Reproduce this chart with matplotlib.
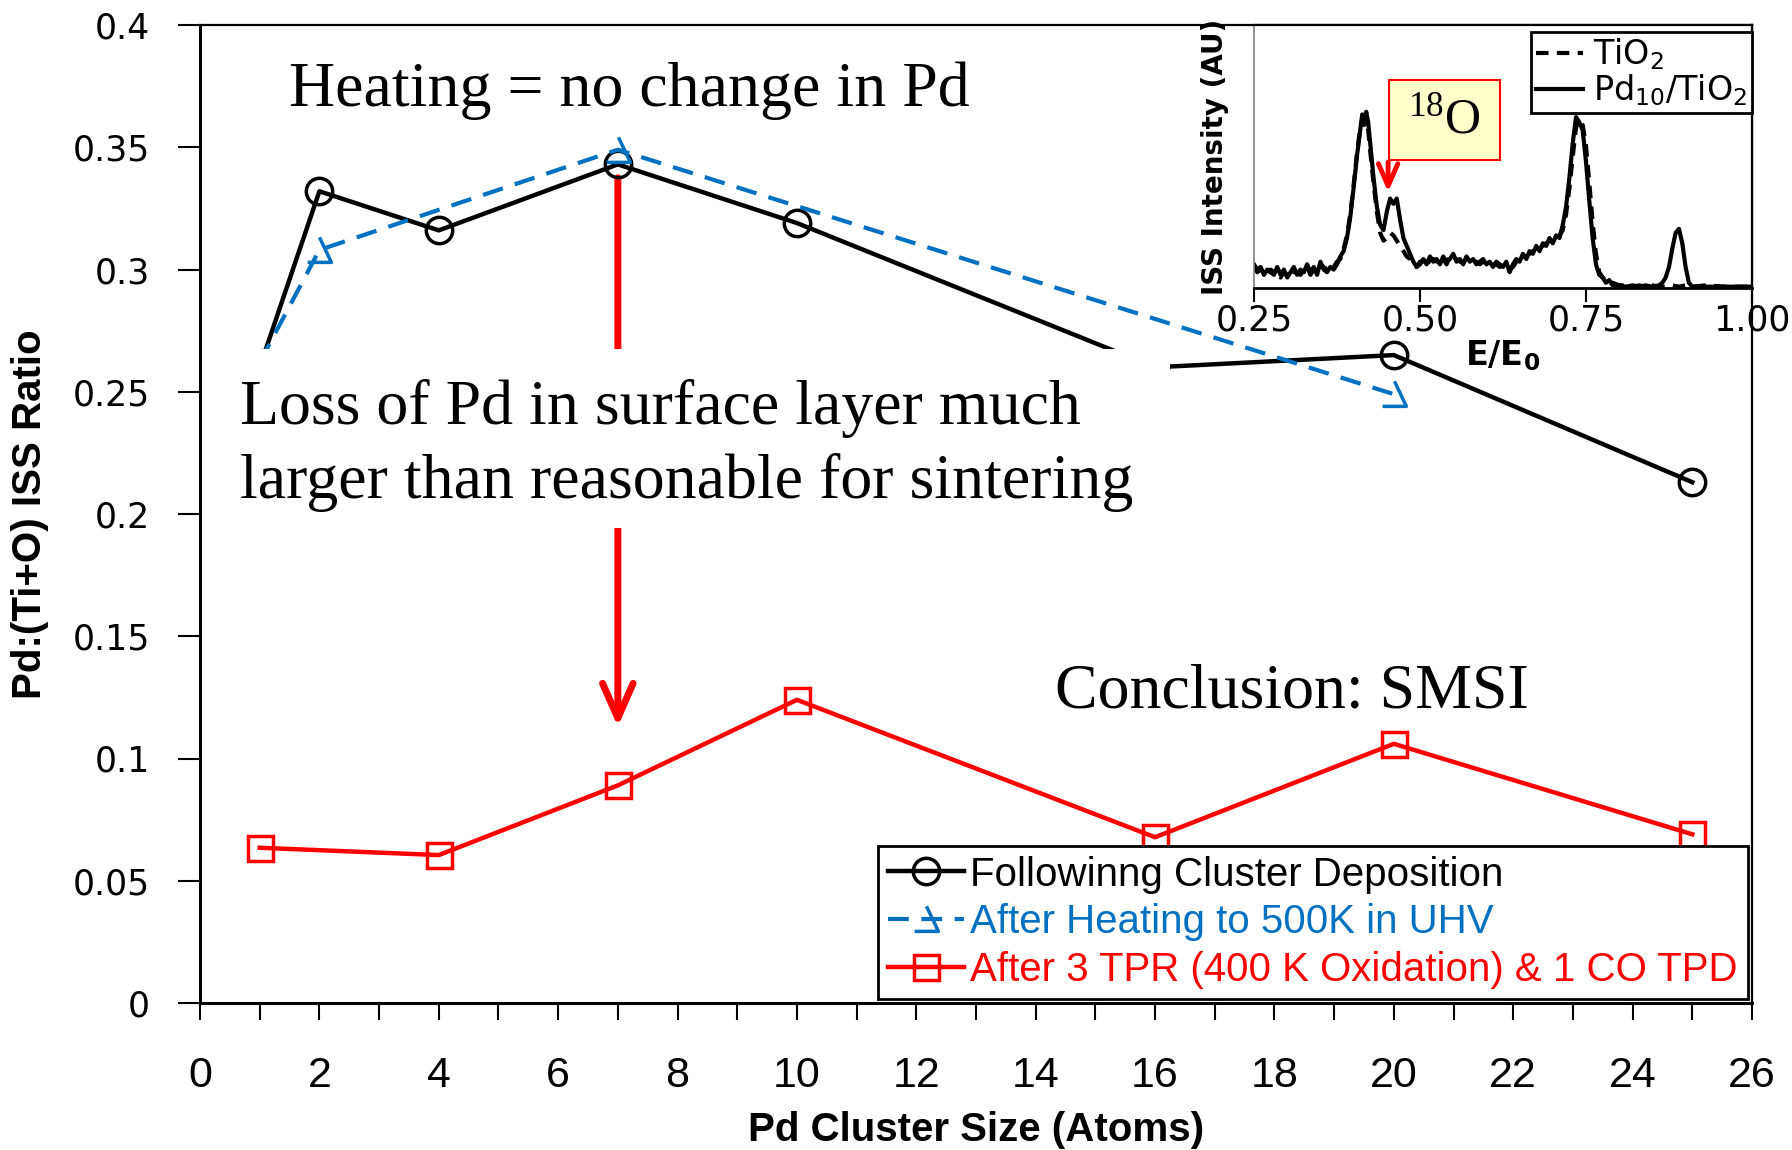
#!/usr/bin/env python
# Pd cluster ISS ratio vs cluster size, with ISS spectrum inset
import numpy as np
import matplotlib.pyplot as plt
from matplotlib.path import Path
from matplotlib.patches import Rectangle

# main panel data
dep_size = [1, 2, 4, 7, 10, 16, 20, 25]
deposited = [0.260, 0.332, 0.316, 0.343, 0.319, 0.260, 0.265, 0.213]
heat_size = [1, 2, 7, 20]
heated = [0.262, 0.308, 0.349, 0.249]
ox_size = [1, 4, 7, 10, 16, 20, 25]
oxidized = [0.0635, 0.0605, 0.089, 0.124, 0.0678, 0.106, 0.069]

xticks = list(range(0, 27, 2))
yticks = [0, 0.05, 0.1, 0.15, 0.2, 0.25, 0.3, 0.35, 0.4]
yticklabels = ['0', '0.05', '0.1', '0.15', '0.2', '0.25', '0.3', '0.35', '0.4']

# inset spectra (E/E0, intensity in AU)
E_pd = [0.250, 0.255, 0.260, 0.265, 0.270, 0.275, 0.280, 0.285, 0.290, 0.295,
        0.300, 0.305, 0.310, 0.315, 0.320, 0.325, 0.330, 0.335, 0.340, 0.345,
        0.350, 0.355, 0.360, 0.365, 0.370, 0.375, 0.380, 0.385, 0.390, 0.395,
        0.400, 0.405, 0.410, 0.413, 0.416, 0.419, 0.422, 0.425, 0.430, 0.435,
        0.440, 0.445, 0.450, 0.455, 0.460, 0.465, 0.470, 0.475, 0.480, 0.485,
        0.490, 0.495, 0.500, 0.505, 0.510, 0.515, 0.520, 0.525, 0.530, 0.535,
        0.540, 0.545, 0.550, 0.555, 0.560, 0.565, 0.570, 0.575, 0.580, 0.585,
        0.590, 0.595, 0.600, 0.605, 0.610, 0.615, 0.620, 0.625, 0.630, 0.635,
        0.640, 0.645, 0.650, 0.655, 0.660, 0.665, 0.670, 0.675, 0.680, 0.685,
        0.690, 0.695, 0.700, 0.705, 0.710, 0.715, 0.720, 0.725, 0.730, 0.735,
        0.740, 0.745, 0.750, 0.755, 0.760, 0.765, 0.770, 0.775, 0.780, 0.785,
        0.790, 0.800, 0.810, 0.820, 0.830, 0.840, 0.850, 0.860, 0.865, 0.870,
        0.875, 0.880, 0.885, 0.890, 0.895, 0.900, 0.905, 0.910, 0.930, 0.960,
        1.000]
I_pd = [0.09, 0.07, 0.08, 0.05, 0.07, 0.06, 0.05, 0.08, 0.05, 0.07,
        0.04, 0.06, 0.08, 0.05, 0.07, 0.06, 0.09, 0.06, 0.08, 0.05,
        0.10, 0.07, 0.06, 0.08, 0.07, 0.09, 0.12, 0.14, 0.19, 0.27,
        0.38, 0.50, 0.60, 0.66, 0.62, 0.67, 0.63, 0.55, 0.42, 0.31,
        0.24, 0.22, 0.29, 0.34, 0.32, 0.34, 0.26, 0.19, 0.16, 0.13,
        0.10, 0.08, 0.09, 0.11, 0.09, 0.12, 0.10, 0.11, 0.09, 0.12,
        0.10, 0.11, 0.13, 0.10, 0.11, 0.09, 0.12, 0.10, 0.11, 0.09,
        0.10, 0.11, 0.09, 0.10, 0.08, 0.10, 0.09, 0.08, 0.10, 0.06,
        0.09, 0.11, 0.10, 0.13, 0.11, 0.14, 0.13, 0.16, 0.14, 0.17,
        0.16, 0.19, 0.17, 0.20, 0.19, 0.24, 0.31, 0.42, 0.55, 0.65,
        0.63, 0.60, 0.48, 0.33, 0.19, 0.09, 0.05, 0.04, 0.02, 0.03,
        0.01, 0.01, 0.005, 0.01, 0.005, 0.01, 0.005, 0.01, 0.02, 0.04,
        0.08, 0.15, 0.21, 0.225, 0.17, 0.08, 0.02, 0.005, 0.005, 0.005,
        0.005]
E_ti = [0.250, 0.255, 0.260, 0.265, 0.270, 0.275, 0.280, 0.285, 0.290, 0.295,
        0.300, 0.305, 0.310, 0.315, 0.320, 0.325, 0.330, 0.335, 0.340, 0.345,
        0.350, 0.355, 0.360, 0.365, 0.370, 0.375, 0.380, 0.385, 0.390, 0.395,
        0.400, 0.405, 0.410, 0.413, 0.416, 0.419, 0.422, 0.425, 0.430, 0.435,
        0.440, 0.445, 0.450, 0.455, 0.460, 0.465, 0.470, 0.475, 0.480, 0.485,
        0.490, 0.495, 0.500, 0.505, 0.510, 0.515, 0.520, 0.525, 0.530, 0.535,
        0.540, 0.545, 0.550, 0.555, 0.560, 0.565, 0.570, 0.575, 0.580, 0.585,
        0.590, 0.595, 0.600, 0.605, 0.610, 0.615, 0.620, 0.625, 0.630, 0.635,
        0.640, 0.645, 0.650, 0.655, 0.660, 0.665, 0.670, 0.675, 0.680, 0.685,
        0.690, 0.695, 0.700, 0.705, 0.710, 0.715, 0.720, 0.725, 0.730, 0.735,
        0.740, 0.745, 0.750, 0.755, 0.760, 0.765, 0.770, 0.775, 0.780, 0.785,
        0.790, 0.800, 0.810, 0.820, 0.830, 0.840, 0.850, 0.860, 0.870, 0.880,
        0.890, 0.900, 0.910, 0.930, 0.960, 1.000]
I_ti = [0.08, 0.06, 0.07, 0.06, 0.05, 0.07, 0.06, 0.07, 0.04, 0.06,
        0.05, 0.07, 0.06, 0.06, 0.05, 0.07, 0.08, 0.05, 0.07, 0.06,
        0.09, 0.08, 0.07, 0.07, 0.08, 0.10, 0.11, 0.15, 0.20, 0.28,
        0.39, 0.51, 0.61, 0.64, 0.65, 0.62, 0.60, 0.52, 0.40, 0.29,
        0.21, 0.18, 0.19, 0.21, 0.20, 0.18, 0.16, 0.14, 0.12, 0.11,
        0.09, 0.08, 0.10, 0.10, 0.08, 0.11, 0.11, 0.10, 0.10, 0.11,
        0.09, 0.12, 0.11, 0.11, 0.10, 0.10, 0.11, 0.11, 0.10, 0.10,
        0.09, 0.10, 0.10, 0.09, 0.09, 0.09, 0.08, 0.09, 0.09, 0.07,
        0.08, 0.10, 0.11, 0.12, 0.12, 0.13, 0.14, 0.15, 0.15, 0.16,
        0.17, 0.18, 0.18, 0.19, 0.20, 0.22, 0.28, 0.38, 0.50, 0.61,
        0.64, 0.62, 0.54, 0.40, 0.25, 0.13, 0.06, 0.04, 0.03, 0.02,
        0.02, 0.01, 0.01, 0.005, 0.01, 0.005, 0.01, 0.005, 0.005, 0.01,
        0.005, 0.01, 0.005, 0.01, 0.005, 0.005]

narrow = ['Liberation Sans Narrow', 'Liberation Sans']
serif = 'Liberation Serif'
blue = '#0070C0'

# triangle drawn with its left edge missing (dashed marker look)
tri = Path([(0, 1), (0.9, -0.9), (-0.9, -0.9)],
           [Path.MOVETO, Path.LINETO, Path.LINETO])

fig = plt.figure(figsize=(17.92, 11.5), dpi=100)
ax = fig.add_axes([200/1792, 147/1150, 1552/1792, 978/1150])

ax.plot(dep_size, deposited, color='black', lw=3.2, marker='o', ms=19,
        mfc='none', mew=2.5, zorder=3, label='Followinng Cluster Deposition')
ax.plot(heat_size, heated, color=blue, lw=3, ls=(0, (5, 3)), marker=tri,
        ms=19, mfc='none', mew=2.5, zorder=4, label='After Heating to 500K in UHV')
ax.plot(ox_size, oxidized, color='red', lw=3.2, marker='s', ms=18,
        mfc='none', mew=2.5, zorder=3,
        label='After 3 TPR (400 K Oxidation) & 1 CO TPD')

ax.set_xlim(0, 26)
ax.set_ylim(0, 0.4)
ax.set_xticks(xticks)
ax.set_xticks(range(0, 27), minor=True)
ax.set_yticks(yticks)
ax.set_yticklabels(yticklabels)
ax.tick_params(axis='x', which='both', direction='out', length=12, width=1.5)
ax.tick_params(axis='x', which='major', pad=26, labelsize=31)
ax.tick_params(axis='y', direction='out', length=16, width=1.5, pad=20, labelsize=25)
for t in ax.get_xticklabels():
    t.set_fontfamily(narrow)
for t in ax.get_yticklabels():
    t.set_fontfamily('DejaVu Sans')
for s in ['left', 'bottom']:
    ax.spines[s].set_linewidth(2.2)
for s in ['top', 'right']:
    ax.spines[s].set_linewidth(1.6)

ax.set_ylabel('Pd:(Ti+O) ISS Ratio', fontweight='bold', fontsize=29, family=narrow)
ax.yaxis.set_label_coords(-0.097, 0.5)
ax.set_xlabel('Pd Cluster Size (Atoms)', fontweight='bold', fontsize=29, family=narrow)
ax.xaxis.set_label_coords(0.5, -0.11)

leg = ax.legend(loc='lower right', bbox_to_anchor=(1, 0), borderaxespad=0.1,
                prop={'family': narrow, 'size': 29}, labelcolor='linecolor',
                fancybox=False, edgecolor='black', framealpha=1,
                handlelength=1.9, handletextpad=0.15, labelspacing=0.24,
                borderpad=0.25)
leg.get_frame().set_linewidth(2)
leg.set_zorder(8)

# annotations
ax.text(1.49, 0.373, 'Heating = no change in Pd', family=serif, size=46,
        va='center', zorder=6)
# white panel behind the middle note hides the lines under it
ax.add_patch(Rectangle((0.0064, 0.4857), 0.6186, 0.1833, transform=ax.transAxes,
                       fc='white', ec='none', zorder=5))
ax.text(0.67, 0.228, 'Loss of Pd in surface layer much\nlarger than reasonable for sintering',
        family=serif, size=46, va='center', ha='left', linespacing=1.35, zorder=6)
ax.text(14.32, 0.1268, 'Conclusion: SMSI', family=serif, size=46, va='center', zorder=6)
ax.annotate('', xy=(7, 0.113), xytext=(7, 0.3375), zorder=2.5,
            arrowprops=dict(arrowstyle='->,head_length=2.5,head_width=1.1',
                            color='red', lw=5, shrinkA=0, shrinkB=0))

# inset spectrum
axin = fig.add_axes([1254/1792, 1 - 288/1150, 498/1792, 263/1150])
axin.plot(E_ti, I_ti, color='black', lw=3, ls=(0, (3, 2)), label=r'TiO$\mathregular{_2}$')
axin.plot(E_pd, I_pd, color='black', lw=3, label=r'Pd$\mathregular{_{10}}$/TiO$\mathregular{_2}$')
axin.set_xlim(0.25, 1.0)
axin.set_ylim(0, 1)
axin.set_xticks([0.25, 0.5, 0.75, 1.0])
axin.set_xticklabels(['0.25', '0.50', '0.75', '1.00'])
axin.set_yticks([])
axin.tick_params(axis='x', direction='out', length=10, width=1.5, pad=1, labelsize=25)
axin.spines['left'].set_color('#808080')
axin.spines['left'].set_linewidth(1.2)
axin.spines['bottom'].set_linewidth(2)
axin.spines['top'].set_linewidth(1.6)
axin.spines['right'].set_linewidth(1.6)
axin.set_ylabel('ISS Intensity (AU)', fontweight='bold', fontsize=20)
axin.yaxis.set_label_coords(-0.05, 0.5)
axin.set_xlabel(r'E/E$\mathregular{_0}$', fontweight='bold', fontsize=24)
axin.xaxis.set_label_coords(0.5, -0.19)

lin = axin.legend(loc='upper right', bbox_to_anchor=(1, 0.975), borderaxespad=0,
                  prop={'size': 24}, fancybox=False, edgecolor='black', framealpha=1,
                  handlelength=1.4, handletextpad=0.3, labelspacing=0.0, borderpad=0.15)
lin.get_frame().set_linewidth(2)

axin.add_patch(Rectangle((0.271, 0.487), 0.223, 0.304, transform=axin.transAxes,
                         fc='#FFFFCC', ec='red', lw=1.5, zorder=5))
axin.text(0.3825, 0.639, r'$\mathregular{^{18}}$O', transform=axin.transAxes,
          family=serif, size=36, ha='center', va='center', zorder=6)
axin.annotate('', xy=(0.452, 0.365), xytext=(0.452, 0.479), zorder=6,
              arrowprops=dict(arrowstyle='->,head_length=1.6,head_width=0.7',
                              color='red', lw=3.5, shrinkA=0, shrinkB=0))

fig.savefig('out.png', dpi=100)
